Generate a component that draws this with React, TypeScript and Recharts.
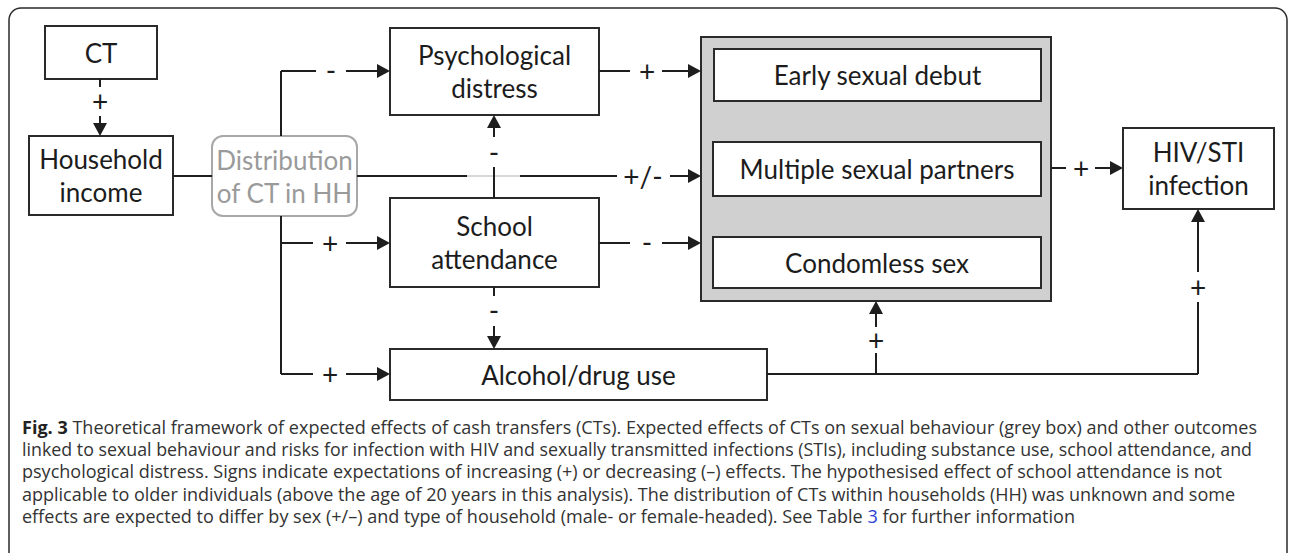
import React from 'react';
import { ComposedChart, XAxis, YAxis, ReferenceArea, ReferenceLine, Scatter } from 'recharts';

const W = 1293;
const H = 553;

// ---- boxes (diagram coordinates) ----
const boxLabels: string[][] = [
  ['CT'],
  ['Household', 'income'],
  ['Distribution', 'of CT in HH'],
  ['Psychological', 'distress'],
  ['School', 'attendance'],
  ['Alcohol/drug use'],
  [],
  ['Early sexual debut'],
  ['Multiple sexual partners'],
  ['Condomless sex'],
  ['HIV/STI', 'infection'],
];
const boxLeft = [45, 29, 212, 390, 390, 390, 701, 714, 713, 713, 1123];
const boxRight = [157, 173, 357, 599, 599, 767, 1051, 1041, 1041, 1041, 1274];
const boxTop = [26, 136, 136, 28, 198, 349, 37, 49, 142, 237, 128];
const boxBottom = [79, 215, 216, 115, 287, 400, 301, 101, 196, 288, 209];
const boxKind = ['plain', 'plain', 'soft', 'plain', 'plain', 'plain', 'group', 'plain', 'plain', 'plain', 'plain'];

// ---- connector segments ----
const segX1 = [100, 100, 281, 281, 346, 173, 357, 467, 520, 670, 281, 281, 346, 281, 346, 599, 662, 599, 662, 494, 494, 494, 494, 767, 1198, 1198, 876, 876, 1051, 1095];
const segY1 = [79, 116, 136, 71, 71, 176, 176, 176, 176, 176, 216, 243, 243, 374, 374, 71, 71, 243, 243, 198, 137, 287, 326, 374, 374, 272, 374, 327, 168, 168];
const segX2 = [100, 100, 281, 316, 390, 212, 467, 520, 617, 701, 281, 313, 390, 313, 390, 630, 701, 630, 701, 494, 494, 494, 494, 1198, 1198, 1198, 876, 876, 1066, 1123];
const segY2 = [87, 136, 71, 71, 71, 176, 176, 176, 176, 176, 374, 243, 243, 374, 374, 71, 71, 243, 243, 167, 115, 296, 349, 374, 302, 209, 353, 301, 168, 168];
const segHead = [0, 1, 0, 0, 1, 0, 0, 0, 0, 1, 0, 0, 1, 0, 1, 0, 1, 0, 1, 0, 1, 0, 1, 0, 0, 1, 0, 1, 0, 1];
const segFaint = [0, 0, 0, 0, 0, 0, 0, 1, 0, 0, 0, 0, 0, 0, 0, 0, 0, 0, 0, 0, 0, 0, 0, 0, 0, 0, 0, 0, 0, 0];

// ---- effect signs ----
const signText = ['+', '-', '+/-', '+', '+', '+', '-', '-', '-', '+', '+', '+'];
const signX = [100, 331, 643, 330, 330, 647, 647, 494, 494, 1198, 876, 1081];
const signY = [101, 70, 176, 243, 374, 71, 242, 152, 310, 287, 340, 168];

// ---- caption ----
const captionLines = [
  'Theoretical framework of expected effects of cash transfers (CTs). Expected effects of CTs on sexual behaviour (grey box) and other outcomes',
  'linked to sexual behaviour and risks for infection with HIV and sexually transmitted infections (STIs), including substance use, school attendance, and',
  'psychological distress. Signs indicate expectations of increasing (+) or decreasing (\u2013) effects. The hypothesised effect of school attendance is not',
  'applicable to older individuals (above the age of 20 years in this analysis). The distribution of CTs within households (HH) was unknown and some',
  'effects are expected to differ by sex (+/\u2013) and type of household (male- or female-headed). See Table ',
];
const captionPrefix = 'Fig. 3';
const captionLink = '3';
const captionTail = ' for further information';
const captionStartX = [22, 22, 22, 22, 22];
const captionEndX = [1257, 1252, 1222, 1235, 1075];
const captionY = [427, 449, 471, 494, 516];

const BOX_FONT = 'Lato, "Open Sans", sans-serif';
const CAP_FONT = '"Open Sans", "Noto Sans", sans-serif';
const INK = '#1c1c1c';

const boxStyle: Record<string, any> = {
  plain: { fill: '#ffffff', stroke: '#2a2a2a', strokeWidth: 2, rx: 0 },
  soft: { fill: '#ffffff', stroke: '#a8a8a8', strokeWidth: 2, rx: 11 },
  group: { fill: '#d0d0d0', stroke: '#2a2a2a', strokeWidth: 2, rx: 0 },
};

const makeBoxShape = (kind: string) => (p: any) => {
  const s = boxStyle[kind];
  return (
    <rect x={p.x} y={p.y} width={p.width} height={p.height} rx={s.rx} ry={s.rx}
      fill={s.fill} stroke={s.stroke} strokeWidth={s.strokeWidth} />
  );
};

const makeSegShape = (head: boolean, faint: boolean) => (p: any) => {
  const { x1, y1, x2, y2 } = p;
  const dx = x2 - x1;
  const dy = y2 - y1;
  const len = Math.sqrt(dx * dx + dy * dy) || 1;
  const ux = dx / len;
  const uy = dy / len;
  const hl = 13;
  const hw = 7;
  const bx = x2 - ux * hl;
  const by = y2 - uy * hl;
  const color = faint ? '#d8d8d8' : '#1e1e1e';
  return (
    <g>
      <line x1={x1} y1={y1} x2={head ? bx + ux * 1 : x2} y2={head ? by + uy * 1 : y2}
        stroke={color} strokeWidth={2} strokeLinecap="butt" />
      {head && (
        <polygon
          points={`${x2},${y2} ${bx - uy * hw},${by + ux * hw} ${bx + uy * hw},${by - ux * hw}`}
          fill="#1e1e1e" />
      )}
    </g>
  );
};

// text points built from the arrays above
const boxTextPoints = boxLabels
  .map((lines, i) => ({
    x: (boxLeft[i] + boxRight[i]) / 2,
    y: (boxTop[i] + boxBottom[i]) / 2,
    lines,
    kind: boxKind[i],
  }))
  .filter((d) => d.lines.length > 0);

const signPoints = signText.map((t, i) => ({ x: signX[i], y: signY[i], lines: [t], kind: 'sign' }));

const captionPoints = captionLines.map((t, i) => ({ x: captionStartX[i], y: captionY[i], idx: i, text: t }));

const TextMark = (props: any) => {
  const d = props.payload || props;
  const { cx, cy } = props;
  const isSign = d.kind === 'sign';
  const size = isSign ? 28 : 26;
  const lh = 33;
  const color = d.kind === 'soft' ? '#9a9a9a' : INK;
  const n = d.lines.length;
  return (
    <g>
      {d.lines.map((ln: string, j: number) => (
        <text key={j} x={cx} y={cy + (j - (n - 1) / 2) * lh} textAnchor="middle" dominantBaseline="central"
          fontFamily={BOX_FONT} fontSize={size} fill={color}>
          {ln}
        </text>
      ))}
    </g>
  );
};

const CaptionMark = (props: any) => {
  const d = props.payload || props;
  const { cx, cy } = props;
  const i = d.idx;
  const width = captionEndX[i] - captionStartX[i];
  return (
    <text x={cx} y={cy} dominantBaseline="central" fontFamily={CAP_FONT} fontSize={18} fill="#333"
      textLength={width} lengthAdjust="spacingAndGlyphs">
      {i === 0 && <tspan fontWeight="bold" fill="#222">{captionPrefix} </tspan>}
      {d.text}
      {i === captionLines.length - 1 && <tspan fill="#2b3fd6">{captionLink}</tspan>}
      {i === captionLines.length - 1 && captionTail}
    </text>
  );
};

export default function App() {
  return (
    <div style={{ position: 'absolute', left: 0, top: 0, width: W, height: H, background: '#fff' }}>
      <ComposedChart width={W} height={H} margin={{ top: 0, right: 0, bottom: 0, left: 0 }}>
        <XAxis type="number" dataKey="x" domain={[0, W]} hide allowDataOverflow />
        <YAxis type="number" dataKey="y" domain={[0, H]} reversed hide allowDataOverflow />
        <ReferenceArea x1={9} x2={1287} y1={8} y2={553} ifOverflow="visible"
          shape={(p: any) => (
            <rect x={p.x} y={p.y} width={p.width} height={p.height + 40} rx={12} ry={12}
              fill="none" stroke="#2a2a2a" strokeWidth={1.5} />
          )} />
        {boxLabels.map((_, i) => (
          <ReferenceArea key={'b' + i} x1={boxLeft[i]} x2={boxRight[i]} y1={boxTop[i]} y2={boxBottom[i]}
            ifOverflow="visible" shape={makeBoxShape(boxKind[i])} />
        ))}
        {segX1.map((_, i) => (
          <ReferenceLine key={'s' + i} ifOverflow="visible"
            segment={[{ x: segX1[i], y: segY1[i] }, { x: segX2[i], y: segY2[i] }]}
            shape={makeSegShape(segHead[i] === 1, segFaint[i] === 1)} />
        ))}
        <Scatter data={boxTextPoints} isAnimationActive={false} shape={TextMark} />
        <Scatter data={signPoints} isAnimationActive={false} shape={TextMark} />
        <Scatter data={captionPoints} isAnimationActive={false} shape={CaptionMark} />
      </ComposedChart>
    </div>
  );
}
